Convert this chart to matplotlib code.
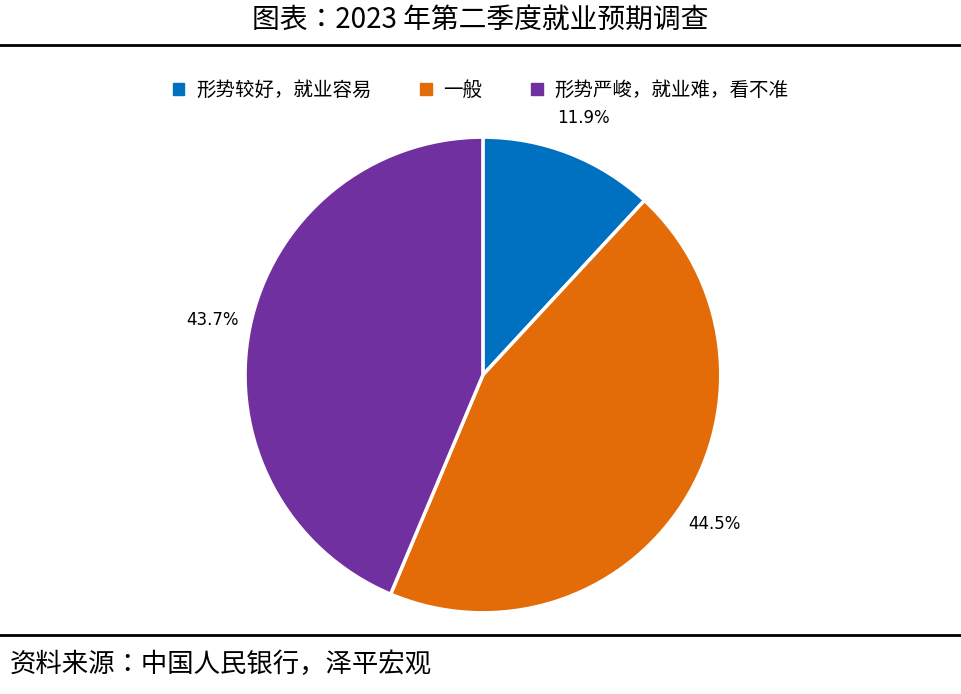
import matplotlib.pyplot as plt
from matplotlib import font_manager
from matplotlib.lines import Line2D

# find an installed CJK font
cjk = [f.name for f in font_manager.fontManager.ttflist if 'CJK' in f.name]
cjk_name = 'Noto Sans CJK SC' if 'Noto Sans CJK SC' in cjk else (cjk[0] if cjk else 'DejaVu Sans')
plt.rcParams['font.family'] = [cjk_name, 'DejaVu Sans']

labels = ['形势较好，就业容易', '一般', '形势严峻，就业难，看不准']
values = [11.9, 44.5, 43.7]
colors = ['#0070C0', '#E36C09', '#7030A0']

fig = plt.figure(figsize=(9.61, 6.94), dpi=100)

# title and rules
fig.text(0.5, 0.972, '图表：2023 年第二季度就业预期调查', ha='center', va='center', fontsize=20)
fig.add_artist(Line2D([0, 1], [0.935, 0.935], color='black', lw=2))
fig.add_artist(Line2D([0, 1], [0.085, 0.085], color='black', lw=2))
fig.text(0.01, 0.042, '资料来源：中国人民银行，泽平宏观', ha='left', va='center',
         fontsize=19, style='italic')

ax = fig.add_axes([0.255, 0.1167, 0.495, 0.686])
ax.pie(values, colors=colors, startangle=90, counterclock=False,
       autopct='%.1f%%', pctdistance=1.16,
       wedgeprops=dict(edgecolor='white', linewidth=2.5),
       textprops=dict(fontsize=12, family='DejaVu Sans'))
ax.set_xlim(-1, 1)
ax.set_ylim(-1, 1)
ax.set_aspect('equal')

handles = [plt.Rectangle((0, 0), 1, 1, color=c) for c in colors]
fig.legend(handles, labels, loc='center', bbox_to_anchor=(0.5, 0.87), ncol=3,
           frameon=False, fontsize=14, handlelength=0.6, handleheight=0.6,
           columnspacing=2.5, handletextpad=0.6)

fig.savefig('out.png', dpi=100)
